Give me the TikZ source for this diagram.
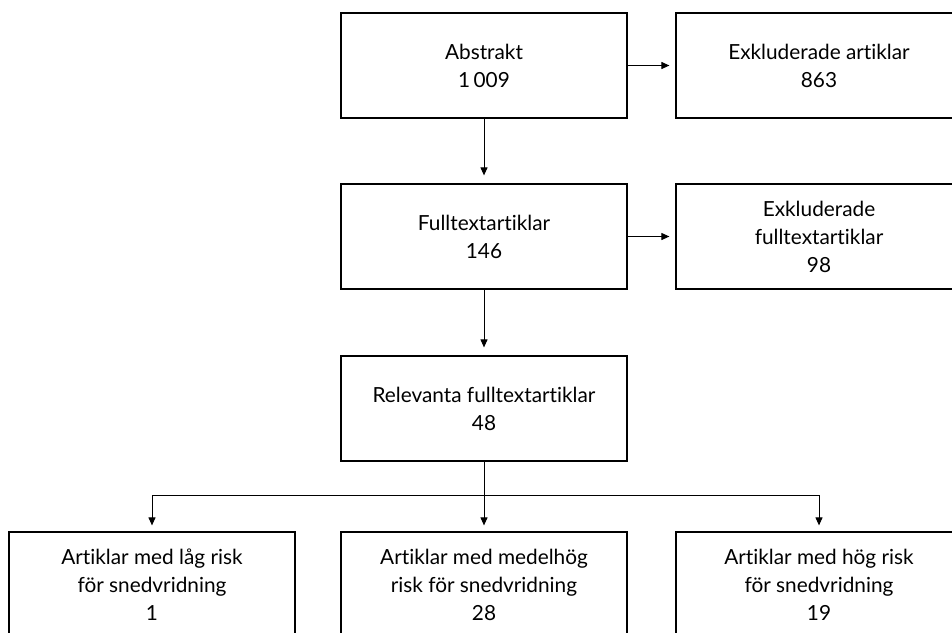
\documentclass[tikz,border=0pt]{standalone}
\usepackage{fontspec}
\setmainfont{Lato}[Ligatures={NoCommon,NoContextual}]
\usetikzlibrary{arrows.meta,positioning}

\begin{document}
\begin{tikzpicture}[x=0.5pt,y=-0.5pt,
        box/.style={draw,line width=0.6pt,minimum width=143pt,minimum height=52.5pt,
            inner sep=0pt,align=center,font=\fontsize{10.4}{14}\selectfont},
        arr/.style={-{Triangle[length=4pt,width=3.5pt]},line width=0.5pt}]
        % Fix the page size
        \useasboundingbox (0,0) rectangle (952,632);
        % Draw the middle column
        \node[box] (abstrakt) at (484,65.5) {Abstrakt\\1\,009};
        \node[box] (fulltext) at (484,236.5) {Fulltextartiklar\\146};
        \node[box] (relevanta) at (484,408.5) {Relevanta fulltextartiklar\\48};
        % Draw the excluded boxes
        \node[box] (exkl) at (819,65.5) {Exkluderade artiklar\\863};
        \node[box] (exklfull) at (819,236.5) {Exkluderade\\fulltextartiklar\\98};
        % Draw the risk boxes
        \node[box] (lag) at (152,584.5) {Artiklar med låg risk\\för snedvridning\\1};
        \node[box] (medel) at (484,584.5) {Artiklar med medelhög\\risk för snedvridning\\28};
        \node[box] (hog) at (819,584.5) {Artiklar med hög risk\\för snedvridning\\19};
        % Connect the boxes
        \draw[arr,shorten >=3pt] (abstrakt) -- (exkl);
        \draw[arr,shorten >=3pt] (fulltext) -- (exklfull);
        \draw[arr,shorten >=4pt] (abstrakt) -- (fulltext);
        \draw[arr,shorten >=4pt] (fulltext) -- (relevanta);
        % Split into the three risk groups
        \coordinate (split) at (484,495);
        \draw[arr,shorten >=3pt] (relevanta) -- (medel);
        \draw[arr,shorten >=3pt] (split) -| (lag);
        \draw[arr,shorten >=3pt] (split) -| (hog);
    \end{tikzpicture}
\end{document}
